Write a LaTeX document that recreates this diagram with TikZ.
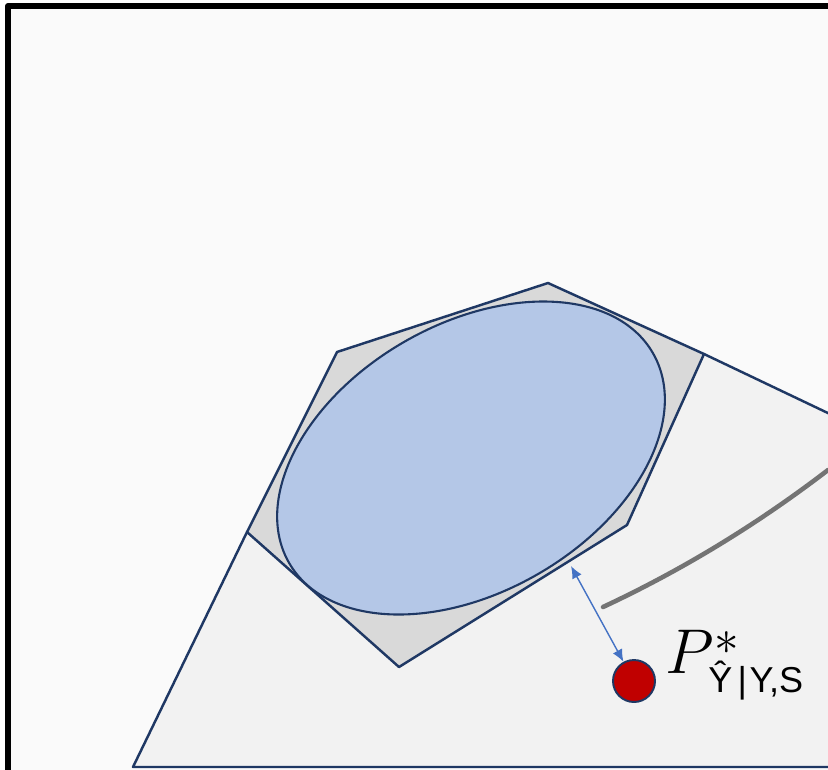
\RequirePackage{fix-cm}
\documentclass[tikz,border=0pt]{standalone}
\usepackage{fontspec}
\newfontfamily\arialsf{Liberation Sans}
\usetikzlibrary{arrows.meta}
\definecolor{navy}{HTML}{1F3864}
\definecolor{pagegray}{HTML}{FAFAFA}
\definecolor{conegray}{HTML}{F2F2F2}
\definecolor{hexgray}{HTML}{D9D9D9}
\definecolor{setblue}{HTML}{B4C7E7}
\definecolor{arrblue}{HTML}{4472C4}
\definecolor{dotred}{HTML}{C00000}
\definecolor{pencil}{HTML}{5F5F5F}
\newcommand{\ssub}[1]{\raisebox{-11.3pt}{\fontsize{20.5}{22}\selectfont\arialsf #1}}
\newcommand{\sstar}{\raisebox{10.3pt}{\fontsize{28}{30}\selectfont$\ast$}}

\begin{document}
\begin{tikzpicture}[x=0.02cm, y=-0.02cm, line join=round,
  border/.style={draw=navy, line width=1.4pt},
  pdot/.style={circle, fill=dotred, draw=navy, line width=1.1pt, minimum size=0.84cm, inner sep=0pt}]
  \useasboundingbox (0,0) rectangle (828,769);
  \clip (0,0) rectangle (828,769);
  \fill[pagegray] (8,6) rectangle (1000,1000);
  \draw[line width=3.4pt] (8,6) rectangle (1000,1000);
  % cone
  \draw[border, fill=conegray] (133,767) -- (247,532) -- (704,354) -- (1000,495) -- (1000,767) -- cycle;
  % hexagon and set
  \draw[border, fill=hexgray] (247,532) -- (337,352) -- (548,283) -- (704,354) -- (627,525) -- (399,667) -- cycle;
  \draw[border, line width=1.2pt, fill=setblue, rotate around={30:(471,458)}] (471,458) ellipse [x radius=210, y radius=134];
  % pencil curve
  \draw[pencil, line width=2.6pt, line cap=round, opacity=0.85] (603,607) .. controls (680,571) and (755,526) .. (828,470);
  \node[pdot] (opt) at (634,681) {};
  \node[anchor=base west, inner sep=0pt, font=\fontsize{36}{40}\selectfont] (lbl) at (665,673)
    {\rlap{$P$}\kern24.5pt\rlap{\kern3.5pt\sstar}\ssub{Ŷ\kern3pt|\kern1.5ptY,S}};
  \coordinate (near) at (571,566);
  \draw[arrblue, line width=0.8pt, {Latex[length=7pt, width=6pt]}-{Latex[length=7pt, width=6pt]}] (near) -- (opt);
\end{tikzpicture}
\end{document}
